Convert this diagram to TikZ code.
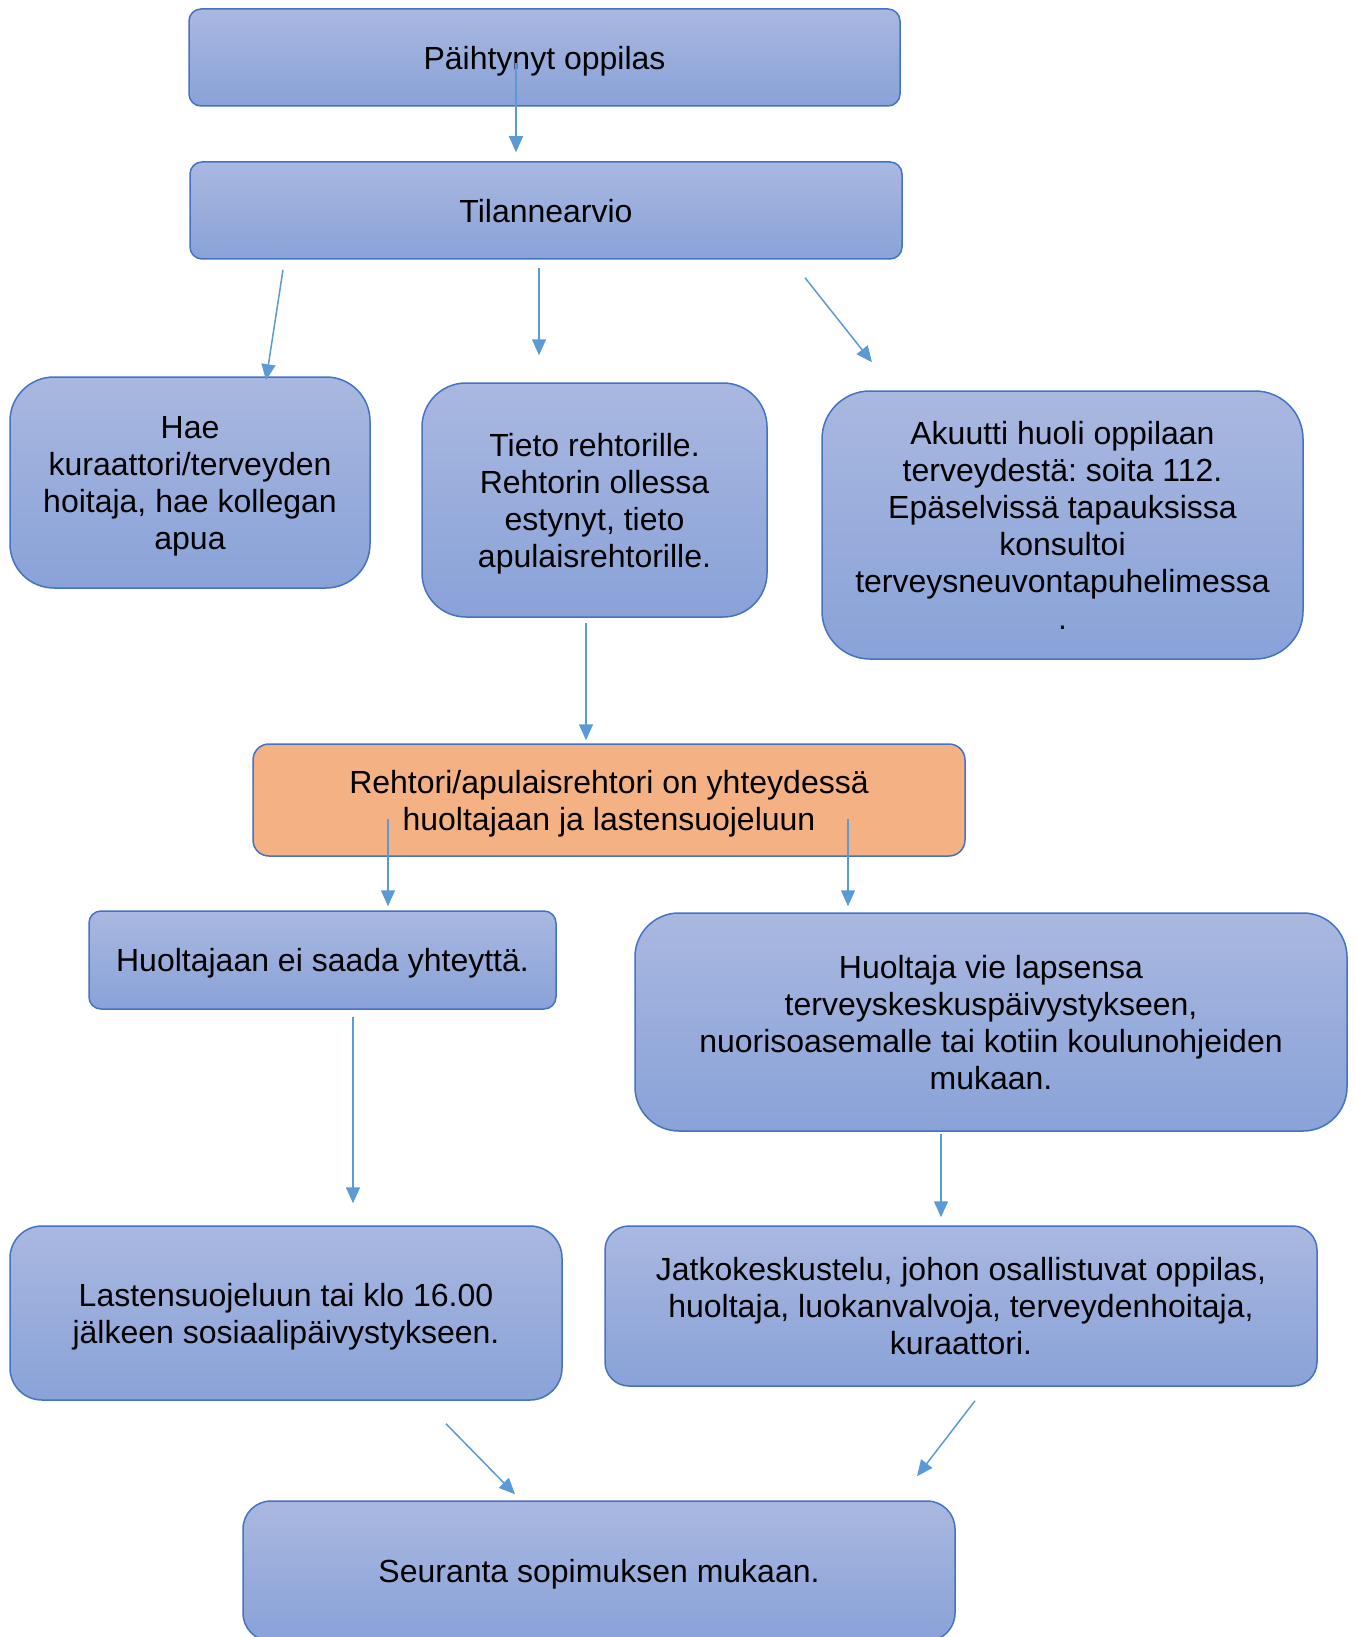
\documentclass[tikz,border=0pt]{standalone}
\usepackage{fontspec}
\setmainfont{Liberation Sans}
\usepackage{xcolor}
\usepackage{tikz}
\usetikzlibrary{arrows.meta}
\definecolor{boxtop}{HTML}{A9B8E0}
\definecolor{boxbot}{HTML}{89A2D8}
\definecolor{boxline}{HTML}{4472C4}
\definecolor{boxorange}{HTML}{F4B183}
\definecolor{arrline}{HTML}{5B9BD5}
\frenchspacing

\begin{document}
\begin{tikzpicture}[x=0.5pt, y=-0.5pt, font=\fontsize{16}{18.5}\selectfont,
    box/.style={draw=boxline, line width=0.75pt, top color=boxtop, bottom color=boxbot,
      align=center, inner sep=0pt, text depth=0pt},
    arr/.style={draw=arrline, line width=0.75pt, -{Triangle[length=8pt, width=7pt]}}]
    \useasboundingbox (0,0) rectangle (1355,1637);

    % top row
    \node[box, rounded corners=6pt, minimum width=355.5pt, minimum height=48.5pt]
    (oppilas) at (544.5,57.5) {Päihtynyt oppilas};
    \node[box, rounded corners=6pt, minimum width=356pt, minimum height=48.5pt]
    (arvio) at (546,210.5) {Tilannearvio};

    % three options
    \node[box, rounded corners=22pt, minimum width=180pt, minimum height=105.5pt]
    (hae) at (190,482.5) {Hae\\kuraattori/terveyden\\hoitaja, hae kollegan\\apua};
    \node[box, rounded corners=22pt, minimum width=172.5pt, minimum height=117pt]
    (tieto) at (594.5,500) {Tieto rehtorille.\\Rehtorin ollessa\\estynyt, tieto\\apulaisrehtorille.};
    \node[box, rounded corners=24pt, minimum width=240.5pt, minimum height=134pt]
    (akuutti) at (1062.5,525) {Akuutti huoli oppilaan\\terveydestä: soita 112.\\Epäselvissä tapauksissa\\konsultoi\\terveysneuvontapuhelimessa\\.};

    \node[box, rounded corners=8pt, top color=boxorange, bottom color=boxorange,
      minimum width=356pt, minimum height=56pt]
    (rehtori) at (609,800) {Rehtori/apulaisrehtori on yhteydessä\\huoltajaan ja lastensuojeluun};

    \node[box, rounded corners=6pt, minimum width=233.5pt, minimum height=49pt]
    (eiyhteys) at (322.5,960) {Huoltajaan ei saada yhteyttä.};
    \node[box, rounded corners=22pt, minimum width=356pt, minimum height=109pt]
    (huoltaja) at (991,1022) {Huoltaja vie lapsensa\\terveyskeskuspäivystykseen,\\nuorisoasemalle tai kotiin koulunohjeiden\\mukaan.};

    \node[box, rounded corners=16pt, minimum width=276pt, minimum height=87pt]
    (lastensuojelu) at (286,1313) {Lastensuojeluun tai klo 16.00\\jälkeen sosiaalipäivystykseen.};
    \node[box, rounded corners=12pt, minimum width=356pt, minimum height=80pt]
    (jatko) at (961,1306) {Jatkokeskustelu, johon osallistuvat oppilas,\\huoltaja, luokanvalvoja, terveydenhoitaja,\\kuraattori.};

    \node[box, rounded corners=14pt, minimum width=356pt, minimum height=70pt]
    (seuranta) at (599,1571) {Seuranta sopimuksen mukaan.};

    % arrows
    \draw[arr] ([shift={(-28.5,5.5)}]oppilas.center) -- ([shift={(-30,-9)}]arvio.north);
    \draw[arr] ([shift={(-263,10)}]arvio.south) -- ([shift={(76,4)}]hae.north);
    \draw[arr] ([shift={(-7,8)}]arvio.south) -- ([shift={(-55.5,-27)}]tieto.north);
    \draw[arr] ([shift={(259,18)}]arvio.south) -- ([shift={(-190.5,-28)}]akuutti.north);
    \draw[arr] ([shift={(-8.5,5)}]tieto.south) -- ([shift={(-23,-3)}]rehtori.north);
    \draw[arr] ([shift={(-221,19)}]rehtori.center) -- ([shift={(65.5,-4)}]eiyhteys.north);
    \draw[arr] ([shift={(239,19)}]rehtori.center) -- ([shift={(-143,-6)}]huoltaja.north);
    \draw[arr] ([shift={(30.5,7)}]eiyhteys.south) -- ([shift={(67,-22)}]lastensuojelu.north);
    \draw[arr] ([shift={(-50,2)}]huoltaja.south) -- ([shift={(-20,-8)}]jatko.north);
    \draw[arr] ([shift={(160,23)}]lastensuojelu.south) -- ([shift={(-84,-6)}]seuranta.north);
    \draw[arr] ([shift={(14,14)}]jatko.south) -- ([shift={(318,-24)}]seuranta.north);
\end{tikzpicture}
\end{document}
